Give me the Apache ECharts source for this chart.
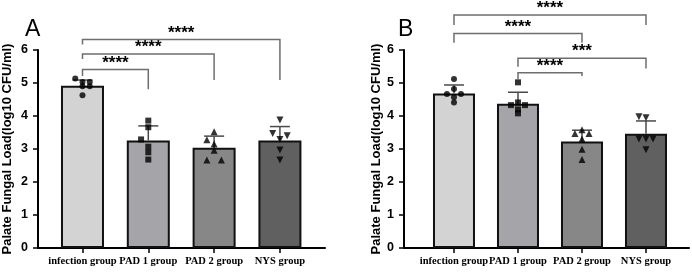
<!DOCTYPE html>
<html><head><meta charset="utf-8">
<script src="https://cdn.jsdelivr.net/npm/echarts@6/dist/echarts.min.js"></script>
<style>html,body{margin:0;padding:0;background:#fff}#c{width:692px;height:274px}</style>
</head><body><div id="c"></div>
<script>
// ---- data ----
const categories = ['infection group', 'PAD 1 group', 'PAD 2 group', 'NYS group'];
const yTicks = [0, 1, 2, 3, 4, 5, 6];

const meanA = [4.92, 3.26, 3.04, 3.26];
const sdA = [0.17, 0.44, 0.35, 0.42];
const pointsA = [
  [5.14, 5.03, 5.03, 4.90, 4.90, 4.63],
  [3.86, 3.66, 3.29, 3.07, 2.90, 2.68],
  [3.52, 3.28, 3.15, 2.96, 2.67, 2.67],
  [3.88, 3.47, 3.40, 3.29, 2.97, 2.67]
];
const jitterA = [
  [-1, 0, 1, 1, 0, 0],
  [0, 0, -1, 0, 0, 0],
  [0, -1, 0, 0, -1, 1],
  [0, -1, 1, 0, 0, 0]
];
const bracketsA = [[0, 1, 5.41, 5.21, 4.81], [0, 2, 5.88, 5.73, 5.09], [0, 3, 6.32, 6.17, 5.09]];
const starsA = ['****', '****', '****'];

const meanB = [4.68, 4.37, 3.23, 3.46];
const sdB = [0.26, 0.35, 0.34, 0.39];
const pointsB = [
  [5.12, 4.82, 4.67, 4.67, 4.57, 4.41],
  [5.02, 4.33, 4.33, 4.41, 4.20, 4.08],
  [3.47, 3.58, 3.47, 3.30, 2.99, 2.68],
  [3.98, 3.95, 3.30, 3.30, 3.30, 2.98]
];
const jitterB = [
  [0, 0, -1, 1, 0, 0],
  [0, -1, 1, 0, 0, 0],
  [-1, 0, 1, 0, 0, 0],
  [-1, 0, -1, 0, 1, 0]
];
const bracketsB = [[0, 3, 7.06, 6.76, 6.76], [0, 2, 6.50, 6.22, 6.22], [1, 3, 5.75, 5.49, 5.44], [1, 2, 5.31, 5.09, 5.21]];
const starsB = ['****', '****', '***', '****'];

// ---- styling ----
const barColors = ['#d3d3d3', '#a5a4a8', '#878787', '#606060'];
const symbols = ['circle', 'rect', 'triangle', 'triangle'];
const symbolRot = [0, 0, 0, 180];
const symbolSizes = [6, 6, 7, 7];
const JIT = 0.11;

const chart = echarts.init(document.getElementById('c'));

function panel(idx, mean, sd, points, jitter, brackets, stars, barW) {
  const s = [];
  s.push({
    type: 'bar', xAxisIndex: idx, yAxisIndex: idx, barWidth: barW, z: 2,
    itemStyle: { borderColor: '#111', borderWidth: 2 },
    data: mean.map((m, i) => ({ value: [i, m], itemStyle: { color: barColors[i] } })),
    silent: true
  });
  s.push({
    type: 'custom', xAxisIndex: idx, yAxisIndex: idx, z: 3, silent: true,
    data: mean.map((m, i) => [i, m, sd[i]]),
    renderItem: (p, api) => {
      const x = api.value(0), m = api.value(1), d = api.value(2);
      const a = api.coord([x, m]), b = api.coord([x, m + d]);
      const st = { stroke: '#4a4a4a', lineWidth: 1.5 };
      return { type: 'group', children: [
        { type: 'line', shape: { x1: a[0], y1: a[1], x2: b[0], y2: b[1] }, style: st },
        { type: 'line', shape: { x1: b[0] - 10, y1: b[1], x2: b[0] + 10, y2: b[1] }, style: st }
      ] };
    }
  });
  points.forEach((arr, i) => {
    s.push({
      type: 'scatter', xAxisIndex: idx, yAxisIndex: idx, z: 4, silent: true,
      symbol: symbols[i], symbolRotate: symbolRot[i], symbolSize: symbolSizes[i],
      itemStyle: { color: '#000' },
      data: arr.map((v, k) => [i + jitter[i][k] * JIT, v])
    });
  });
  s.push({
    type: 'custom', xAxisIndex: idx, yAxisIndex: idx, z: 5, clip: false, silent: true,
    data: brackets,
    renderItem: (p, api) => {
      const x1 = api.value(0), x2 = api.value(1), yt = api.value(2), yl = api.value(3), yr = api.value(4);
      const pl = api.coord([x1, yl]), plt = api.coord([x1, yt]), prt = api.coord([x2, yt]), pr = api.coord([x2, yr]);
      return { type: 'group', children: [
        { type: 'polyline', shape: { points: [pl, plt, prt, pr] }, style: { stroke: '#6e6e6e', lineWidth: 1.5, fill: null } },
        { type: 'text', x: (plt[0] + prt[0]) / 2, y: plt[1] - 6.5,
          style: { text: stars[p.dataIndex], font: 'bold 17px "Liberation Sans"', fill: '#000', align: 'center', verticalAlign: 'middle' } }
      ] };
    }
  });
  return s;
}

function xAxis(idx, min, max) {
  return {
    type: 'value', gridIndex: idx, min: min, max: max,
    axisLine: { show: true, onZero: false, lineStyle: { color: '#000', width: 2 } },
    axisTick: { show: true, customValues: [0, 1, 2, 3], length: 5, lineStyle: { color: '#000', width: 1.5 } },
    axisLabel: { customValues: [0, 1, 2, 3], formatter: v => categories[Math.round(v)], color: '#000',
      fontFamily: '"Liberation Serif"', fontWeight: 'bold', fontSize: 10.5, margin: 8 },
    splitLine: { show: false }
  };
}
function yAxis(idx, gap) {
  return {
    type: 'value', gridIndex: idx, min: yTicks[0], max: yTicks[yTicks.length - 1], interval: 1,
    name: 'Palate Fungal Load(log10 CFU/ml)', nameLocation: 'middle', nameGap: gap,
    nameTextStyle: { fontFamily: '"Liberation Sans"', fontWeight: 'bold', fontSize: 13, color: '#000' },
    axisLine: { show: true, onZero: false, lineStyle: { color: '#000', width: 2 } },
    axisTick: { show: true, length: 5, lineStyle: { color: '#000', width: 1.5 } },
    axisLabel: { fontFamily: '"Liberation Sans"', fontWeight: 'bold', fontSize: 12.5, color: '#000', margin: 10 },
    splitLine: { show: false }
  };
}

chart.setOption({
  animation: false,
  backgroundColor: '#fff',
  title: [
    { text: 'A', left: 20, top: 13, textStyle: { fontFamily: '"Liberation Sans"', fontWeight: 'normal', fontSize: 23, color: '#000' } },
    { text: 'B', left: 393, top: 13, textStyle: { fontFamily: '"Liberation Sans"', fontWeight: 'normal', fontSize: 23, color: '#000' } }
  ],
  grid: [
    { left: 38, right: 367, top: 50, bottom: 26 },
    { left: 404, right: 3, top: 50, bottom: 26 }
  ],
  xAxis: [xAxis(0, -0.676, 3.685), xAxis(1, -0.781, 3.672)],
  yAxis: [yAxis(0, 24), yAxis(1, 18)],
  series: [].concat(
    panel(0, meanA, sdA, pointsA, jitterA, bracketsA, starsA, 43),
    panel(1, meanB, sdB, pointsB, jitterB, bracketsB, starsB, 42)
  )
});
</script></body></html>
